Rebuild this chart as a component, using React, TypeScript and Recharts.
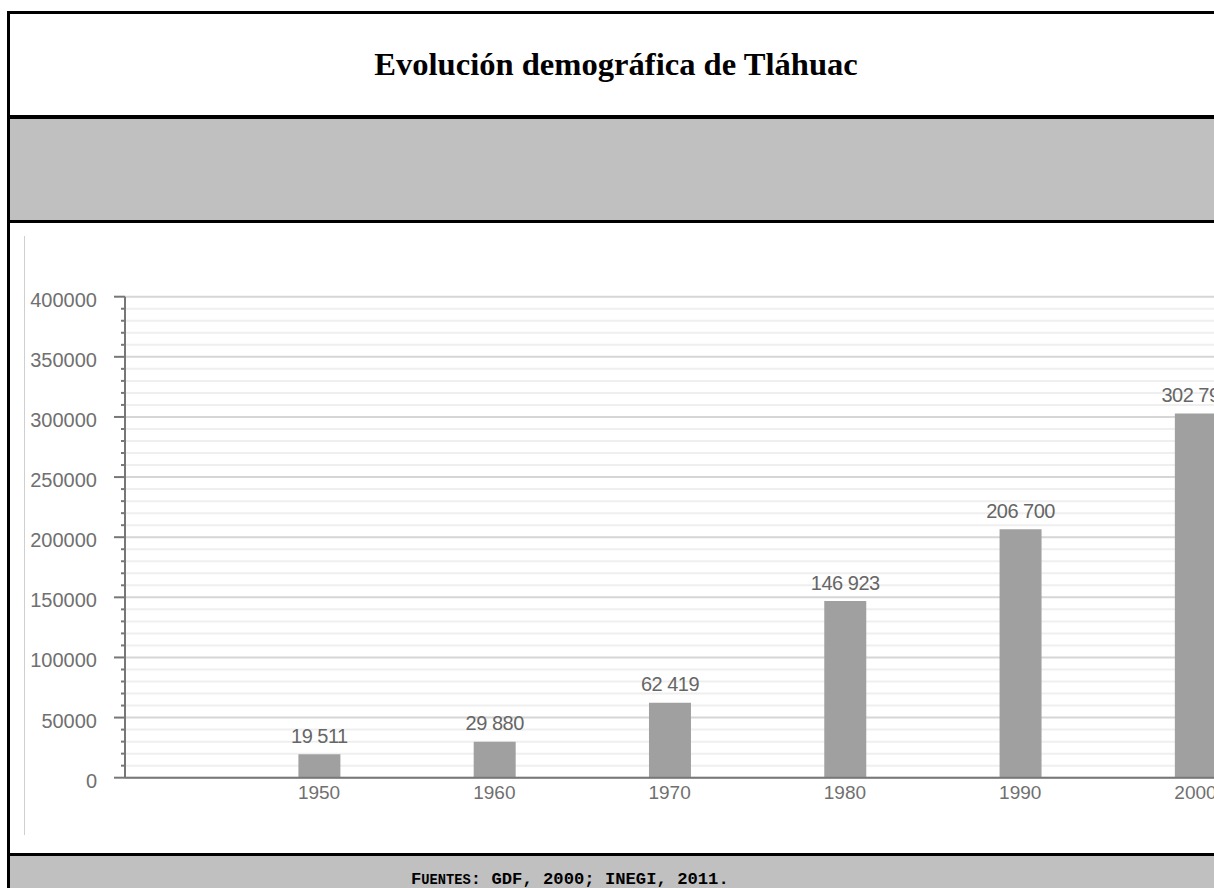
import { Bar, BarChart, CartesianGrid, LabelList, XAxis, YAxis } from "recharts";

const years = [1950, 1960, 1970, 1980, 1990, 2000];
const population = [19511, 29880, 62419, 146923, 206700, 302790];
const majorTicks = [0, 50000, 100000, 150000, 200000, 250000, 300000, 350000, 400000];
const minorStep = 10000;

const title = "Evolución demográfica de Tláhuac";

const data = years.map((year, i) => ({ year, value: population[i] }));
const allTicks = Array.from({ length: 400000 / minorStep + 1 }, (_, i) => i * minorStep);

const sans = '"Liberation Sans", Arial, Helvetica, sans-serif';
const textGray = "#707070";

// separador de miles con espacio
const fmt = (v: any) => String(v).replace(/\B(?=(\d{3})+(?!\d))/g, " ");

function YTick(props: any) {
  const { x, y, payload } = props;
  const major = majorTicks.includes(payload.value);
  return (
    <g>
      <line x1={x - (major ? 11 : 4)} x2={x} y1={y} y2={y} stroke="#777" strokeWidth={2} />
      {major && (
        <text
          x={x - 28}
          y={y + 3}
          textAnchor="end"
          dominantBaseline="central"
          fill={textGray}
          fontSize={20}
          fontFamily={sans}
        >
          {payload.value}
        </text>
      )}
    </g>
  );
}

function BarValue(props: any) {
  const { x, y, width, value } = props;
  return (
    <text
      x={x + width / 2}
      y={y - 11.5}
      textAnchor="middle"
      fill="#666"
      fontSize={20}
      letterSpacing={-0.5}
      fontFamily={sans}
    >
      {fmt(value)}
    </text>
  );
}

function gridLine(props: any) {
  const major = props.index % 5 === 0;
  return (
    <line
      key={`g-${props.index}`}
      x1={props.x1}
      x2={props.x2}
      y1={props.y1}
      y2={props.y2}
      stroke={major ? "#d6d6d6" : "#efefef"}
      strokeWidth={2}
    />
  );
}

export default function App() {
  return (
    <div
      style={{
        position: "absolute",
        left: 0,
        top: 0,
        width: 1214,
        height: 888,
        overflow: "hidden",
        background: "#fff",
      }}
    >
      {/* marco exterior */}
      <div
        style={{
          position: "absolute",
          left: 7,
          top: 11,
          width: 1240,
          height: 900,
          border: "3px solid #000",
          boxSizing: "border-box",
        }}
      />
      <div
        style={{
          position: "absolute",
          left: 0,
          top: 14,
          width: 1232,
          height: 101,
          display: "flex",
          alignItems: "center",
          justifyContent: "center",
          fontFamily: '"Liberation Serif", "Times New Roman", serif',
          fontWeight: "bold",
          fontSize: 32.6,
        }}
      >
        {title}
      </div>
      <div style={{ position: "absolute", left: 10, top: 115, width: 1240, height: 4, background: "#000" }} />
      <div style={{ position: "absolute", left: 10, top: 119, width: 1240, height: 101, background: "#c0c0c0" }} />
      <div style={{ position: "absolute", left: 10, top: 220, width: 1240, height: 3, background: "#000" }} />
      <div style={{ position: "absolute", left: 24, top: 236, width: 1, height: 599, background: "#cfcfcf" }} />

      <div style={{ position: "absolute", left: 0, top: 223 }}>
        <BarChart
          width={1260}
          height={630}
          data={data}
          margin={{ top: 73.7, right: 0, bottom: 35.3, left: 0 }}
        >
          <CartesianGrid vertical={false} horizontal={gridLine} />
          <XAxis
            type="number"
            dataKey="year"
            domain={[1938.93, 2003.68]}
            allowDataOverflow
            ticks={years}
            interval={0}
            height={40}
            tickLine={false}
            tickSize={0}
            tickMargin={8}
            axisLine={{ stroke: "#777", strokeWidth: 2 }}
            tick={{ fill: textGray, fontSize: 19, fontFamily: sans }}
          />
          <YAxis
            type="number"
            domain={[0, 400000]}
            ticks={allTicks}
            interval={0}
            width={125}
            tickLine={false}
            tickSize={0}
            tickMargin={0}
            axisLine={{ stroke: "#777", strokeWidth: 2 }}
            tick={<YTick />}
          />
          <Bar dataKey="value" fill="#a0a0a0" barSize={42} isAnimationActive={false}>
            <LabelList dataKey="value" content={<BarValue />} />
          </Bar>
        </BarChart>
      </div>

      <div style={{ position: "absolute", left: 10, top: 853, width: 1240, height: 3, background: "#000" }} />
      <div style={{ position: "absolute", left: 10, top: 856, width: 1240, height: 40, background: "#c0c0c0" }} />
      <div
        style={{
          position: "absolute",
          left: 411,
          top: 871,
          fontFamily: '"Liberation Mono", "Courier New", monospace',
          fontWeight: "bold",
          fontSize: 17.2,
          lineHeight: "17px",
          whiteSpace: "nowrap",
        }}
      >
        F<span style={{ fontSize: "0.8em" }}>UENTES</span>: GDF, 2000; INEGI, 2011.
      </div>
    </div>
  );
}
